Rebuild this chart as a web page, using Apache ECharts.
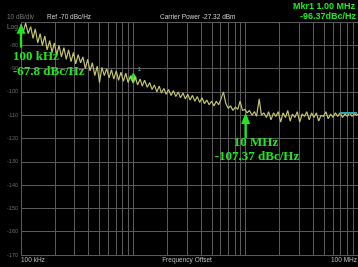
<!DOCTYPE html>
<html><head><meta charset="utf-8">
<script src="https://cdn.jsdelivr.net/npm/echarts@6/dist/echarts.min.js"></script>
<style>html,body{margin:0;padding:0;background:#000}#c{width:358px;height:267px}</style>
</head><body><div id="c"></div>
<script>
// Frequency offsets (kHz) and measured phase noise (dBc/Hz)
const freqKHz = [100,105,110,116,122,128,134,141,148,155,163,171,180,189,198,208,218,229,241,253,
265,279,293,307,323,339,356,374,392,412,432,454,477,500,525,552,579,608,639,670,
704,739,776,815,856,899,944,991,1040,1090,1150,1200,1260,1330,1400,1470,1540,1620,1700,1780,
1870,1960,2060,2170,2270,2390,2510,2630,2770,2900,3050,3200,3360,3530,3710,3890,4090,4290,4510,4730,
4970,5220,5480,5750,6040,6340,6660,6990,7340,7710,8090,8500,8920,9370,9840,10300,10800,11400,12000,12500,
13200,13800,14500,15300,16000,16800,17700,18600,19500,20500,21500,22600,23700,24900,26100,27400,28800,30300,31800,33400,
35000,36800,38600,40500,42600,44700,46900,49300,51800,54300,57100,59900,62900,66000,69300,72800,76500,80300,84300,88500,
92900,97600,100000];
const noiseDbc = [-71,-74,-70.5,-75,-72,-77,-73,-79,-75,-80,-76,-82,-78,-83,-79,-84,-80,-85,-81,-86,
-82,-87,-83,-88,-84,-87.5,-85,-90,-86,-91,-87.5,-93,-89,-96,-89.5,-93,-90,-94,-90.5,-94.5,
-91,-95,-91.5,-95.5,-92,-96,-93,-96,-93.5,-97,-94.5,-97.5,-95,-98,-96,-99,-97,-100,-97.5,-100.5,
-98.5,-101,-99,-101.5,-99.5,-102,-100,-102.5,-100.5,-103,-101,-103.5,-101.5,-104,-102,-104.5,-102.5,-105,-103.5,-105.5,
-104,-106,-104,-105.5,-103,-100,-105,-107,-106,-108,-106.5,-107.5,-104,-108,-107.5,-109,-108,-110,-108.5,-110.5,
-103,-110,-109,-111,-108.5,-112,-109,-110.5,-108.5,-113,-109,-111,-108,-112.5,-109.5,-111,-108.5,-113,-109.5,-110.5,
-108.5,-112,-109,-111,-109,-112.5,-110,-110.5,-108.5,-111.5,-109.5,-111,-109,-110.5,-109,-111,-109.5,-110.5,-109,-110.5,
-109.5,-110,-109.5];
const yMin = -170, yMax = -70, yStep = 10;
const xMinHz = 1e5, xMaxHz = 1e8;
const gridMults = [2,3,4,5,6,7,8,9];
const gridDecades = [1e5,1e6,1e7];
// annotation markers: [freq Hz, arrow tip dB, head base dB, tail dB]
const arrowMarks = [[1e5,-70.8,-75,-81],[1e7,-108.8,-113.8,-119.8]];
const arrowTexts = [['100 kHz','-67.8 dBc/Hz'],['10 MHz','-107.37 dBc/Hz']];
const mkr1 = [1e6,-94];

const GREEN = '#22e622';
const GRIDC = '#5a5a5a';
const chart = echarts.init(document.getElementById('c'));
const traceData = freqKHz.map((f,i)=>[f*1000, noiseDbc[i]]);
const vLines = [];
gridDecades.forEach(d=>gridMults.forEach(m=>vLines.push({xAxis:d*m})));

chart.setOption({
  backgroundColor:'#000',
  animation:false,
  grid:{left:21,right:-3,top:22,bottom:12},
  xAxis:{type:'log',logBase:10,min:xMinHz,max:xMaxHz,
    axisLabel:{show:false},axisTick:{show:false},axisLine:{show:false},
    splitLine:{show:true,lineStyle:{color:GRIDC,width:1}}},
  yAxis:{type:'value',min:yMin,max:yMax,interval:yStep,
    axisLine:{show:false},axisTick:{show:false},
    splitLine:{lineStyle:{color:GRIDC,width:1}},
    axisLabel:{color:'#6a6a6a',fontSize:5.5,margin:3,fontFamily:'Liberation Sans',
      formatter:v=>v===yMax?'':String(v)}},
  series:[
    {type:'line',data:[],z:1,markLine:{silent:true,symbol:'none',animation:false,
      label:{show:false},lineStyle:{color:GRIDC,type:'solid',width:1},data:vLines}},
    {type:'line',data:traceData,symbol:'none',showSymbol:false,z:5,
      lineStyle:{color:'#c4c470',width:1.2},
      markPoint:{animation:false,data:[{coord:mkr1}],symbol:'diamond',symbolSize:[7,11],
        itemStyle:{color:GREEN},
        label:{show:true,formatter:'1',position:[8,-6],color:'#3cc',fontSize:6,fontFamily:'Liberation Sans'}}}
  ]
});

const px = (x,y)=>chart.convertToPixel({gridIndex:0},[x,y]);
const g = [];
arrowMarks.forEach((a,i)=>{
  const tip = px(a[0],a[1]), base = px(a[0],a[2]), tail = px(a[0],a[3]);
  const cx = tip[0];
  g.push({type:'polygon',shape:{points:[[cx,tip[1]],[cx-4.5,base[1]],[cx+4.5,base[1]]]},style:{fill:GREEN},z:20});
  g.push({type:'rect',shape:{x:cx-1.2,y:base[1]-0.5,width:2.4,height:tail[1]-base[1]+0.5},style:{fill:GREEN},z:20});
});
const tStyle = (t,x,y,align)=>({type:'text',x:x,y:y,z:30,style:{text:t,fill:GREEN,font:'bold 13px "Liberation Serif"',align:align||'left',verticalAlign:'middle'}});
g.push(tStyle(arrowTexts[0][0],13,57));
g.push(tStyle(arrowTexts[0][1],13,72));
g.push(tStyle(arrowTexts[1][0],256,143,'center'));
g.push(tStyle(arrowTexts[1][1],257,157,'center'));
const small = (t,x,y,c,align,size)=>({type:'text',x:x,y:y,z:30,style:{text:t,fill:c,font:(size||6.5)+'px "Liberation Sans"',align:align||'left',verticalAlign:'middle'}});
g.push(small('10 dB/div',7,17,'#7a7a7a'));
g.push(small('Log',7,27,'#7a7a7a'));
g.push(small('Ref -70 dBc/Hz',47,17,'#cfcfcf'));
g.push(small('Carrier Power -27.32 dBm',160,17,'#cfcfcf'));
g.push(small('100 kHz',21,260,'#bdbdbd'));
g.push(small('Frequency Offset',187,260,'#bdbdbd','center'));
g.push(small('100 MHz',357,260,'#bdbdbd','right'));
g.push({type:'text',x:293,y:7,z:30,style:{text:'Mkr1 1.00 MHz',fill:GREEN,font:'bold 9px "Liberation Sans"',verticalAlign:'middle'}});
g.push({type:'text',x:300,y:17,z:30,style:{text:'-96.37dBc/Hz',fill:GREEN,font:'bold 9px "Liberation Sans"',verticalAlign:'middle'}});
g.push({type:'rect',shape:{x:340,y:112,width:17,height:2},style:{fill:'#2aa6b8'},z:25});
chart.setOption({graphic:g});
</script></body></html>
